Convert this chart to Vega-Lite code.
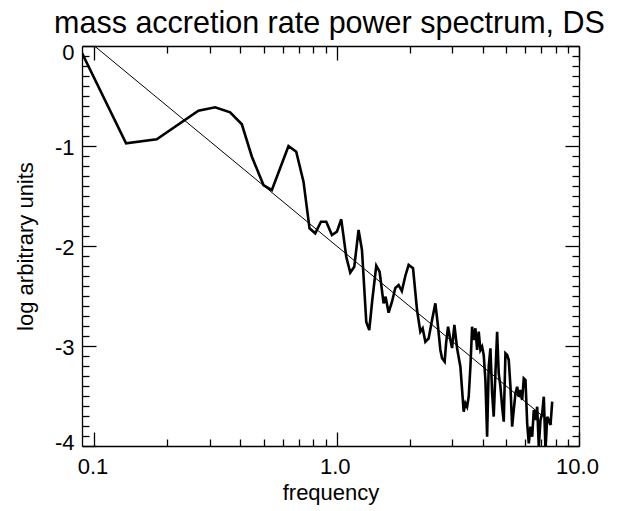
{
  "$schema": "https://vega.github.io/schema/vega-lite/v6.json",
  "width": 497,
  "height": 400,
  "autosize": {"type": "none"},
  "padding": {"left": 82, "top": 46, "right": 40, "bottom": 65},
  "background": "white",
  "config": {"view": {"stroke": null}, "font": "Liberation Sans"},
  "datasets": {
    "spectrum": [
      {"frequency": 0.0888, "logpower": -0.07},
      {"frequency": 0.135, "logpower": -0.973},
      {"frequency": 0.1807, "logpower": -0.933},
      {"frequency": 0.2685, "logpower": -0.647},
      {"frequency": 0.3148, "logpower": -0.613},
      {"frequency": 0.363, "logpower": -0.663},
      {"frequency": 0.4057, "logpower": -0.783},
      {"frequency": 0.4463, "logpower": -1.107},
      {"frequency": 0.4983, "logpower": -1.39},
      {"frequency": 0.5397, "logpower": -1.44},
      {"frequency": 0.6322, "logpower": -1.0},
      {"frequency": 0.6803, "logpower": -1.057},
      {"frequency": 0.7291, "logpower": -1.357},
      {"frequency": 0.772, "logpower": -1.823},
      {"frequency": 0.815, "logpower": -1.873},
      {"frequency": 0.8604, "logpower": -1.757},
      {"frequency": 0.9051, "logpower": -1.757},
      {"frequency": 0.9554, "logpower": -1.89},
      {"frequency": 1.0019, "logpower": -1.857},
      {"frequency": 1.0438, "logpower": -1.733},
      {"frequency": 1.0946, "logpower": -2.107},
      {"frequency": 1.137, "logpower": -2.267},
      {"frequency": 1.1812, "logpower": -2.207},
      {"frequency": 1.2304, "logpower": -1.84},
      {"frequency": 1.2709, "logpower": -2.04},
      {"frequency": 1.324, "logpower": -2.76},
      {"frequency": 1.3623, "logpower": -2.84},
      {"frequency": 1.4018, "logpower": -2.54},
      {"frequency": 1.4562, "logpower": -2.197},
      {"frequency": 1.5027, "logpower": -2.257},
      {"frequency": 1.5609, "logpower": -2.573},
      {"frequency": 1.5909, "logpower": -2.507},
      {"frequency": 1.637, "logpower": -2.667},
      {"frequency": 1.6909, "logpower": -2.557},
      {"frequency": 1.7449, "logpower": -2.42},
      {"frequency": 1.8005, "logpower": -2.39},
      {"frequency": 1.8562, "logpower": -2.45},
      {"frequency": 1.9191, "logpower": -2.3},
      {"frequency": 1.9803, "logpower": -2.19},
      {"frequency": 2.065, "logpower": -2.223},
      {"frequency": 2.1451, "logpower": -2.64},
      {"frequency": 2.2135, "logpower": -2.857},
      {"frequency": 2.2625, "logpower": -2.823},
      {"frequency": 2.3214, "logpower": -2.957},
      {"frequency": 2.3954, "logpower": -2.923},
      {"frequency": 2.4743, "logpower": -2.74},
      {"frequency": 2.5531, "logpower": -2.573},
      {"frequency": 2.6096, "logpower": -2.773},
      {"frequency": 2.6775, "logpower": -3.04},
      {"frequency": 2.7212, "logpower": -3.123},
      {"frequency": 2.7893, "logpower": -3.157},
      {"frequency": 2.8267, "logpower": -2.973},
      {"frequency": 2.881, "logpower": -2.807},
      {"frequency": 2.9448, "logpower": -2.94},
      {"frequency": 2.9928, "logpower": -3.02},
      {"frequency": 3.0591, "logpower": -2.79},
      {"frequency": 3.1386, "logpower": -3.023},
      {"frequency": 3.2387, "logpower": -3.207},
      {"frequency": 3.3421, "logpower": -3.657},
      {"frequency": 3.3966, "logpower": -3.573},
      {"frequency": 3.452, "logpower": -3.607},
      {"frequency": 3.505, "logpower": -3.507},
      {"frequency": 3.5622, "logpower": -3.207},
      {"frequency": 3.6203, "logpower": -2.807},
      {"frequency": 3.6759, "logpower": -2.94},
      {"frequency": 3.7359, "logpower": -2.823},
      {"frequency": 3.7969, "logpower": -3.04},
      {"frequency": 3.8551, "logpower": -2.857},
      {"frequency": 3.918, "logpower": -3.04},
      {"frequency": 3.9811, "logpower": -3.007},
      {"frequency": 4.0422, "logpower": -3.09},
      {"frequency": 4.1082, "logpower": -3.34},
      {"frequency": 4.1752, "logpower": -3.907},
      {"frequency": 4.2393, "logpower": -3.207},
      {"frequency": 4.3085, "logpower": -3.023},
      {"frequency": 4.3788, "logpower": -3.473},
      {"frequency": 4.446, "logpower": -3.707},
      {"frequency": 4.5186, "logpower": -3.273},
      {"frequency": 4.5923, "logpower": -2.857},
      {"frequency": 4.6629, "logpower": -3.273},
      {"frequency": 4.739, "logpower": -3.407},
      {"frequency": 4.8163, "logpower": -3.607},
      {"frequency": 4.8903, "logpower": -3.757},
      {"frequency": 4.9701, "logpower": -3.073},
      {"frequency": 5.0512, "logpower": -3.09},
      {"frequency": 5.1288, "logpower": -3.14},
      {"frequency": 5.2124, "logpower": -3.407},
      {"frequency": 5.2975, "logpower": -3.807},
      {"frequency": 5.3788, "logpower": -3.64},
      {"frequency": 5.4665, "logpower": -3.473},
      {"frequency": 5.5557, "logpower": -3.407},
      {"frequency": 5.641, "logpower": -3.507},
      {"frequency": 5.733, "logpower": -3.44},
      {"frequency": 5.8265, "logpower": -3.54},
      {"frequency": 5.916, "logpower": -3.323},
      {"frequency": 6.0125, "logpower": -3.34},
      {"frequency": 6.1106, "logpower": -3.773},
      {"frequency": 6.2043, "logpower": -3.973},
      {"frequency": 6.3055, "logpower": -3.807},
      {"frequency": 6.4083, "logpower": -3.907},
      {"frequency": 6.5068, "logpower": -3.64},
      {"frequency": 6.6129, "logpower": -3.74},
      {"frequency": 6.7208, "logpower": -3.607},
      {"frequency": 6.824, "logpower": -4.007},
      {"frequency": 6.9353, "logpower": -3.74},
      {"frequency": 7.0484, "logpower": -3.673},
      {"frequency": 7.1567, "logpower": -3.507},
      {"frequency": 7.2735, "logpower": -4.04},
      {"frequency": 7.3922, "logpower": -3.707},
      {"frequency": 7.5057, "logpower": -3.74},
      {"frequency": 7.6281, "logpower": -3.79},
      {"frequency": 7.7526, "logpower": -3.557}
    ],
    "powerlaw": [
      {"frequency": 0.1, "logpower": 0.0},
      {"frequency": 7.75, "logpower": -3.78}
    ]
  },
  "layer": [
    {
      "data": {"name": "spectrum"},
      "mark": {"type": "line", "color": "black", "strokeWidth": 2.6, "clip": true},
      "encoding": {
        "x": {
          "field": "frequency", "type": "quantitative",
          "scale": {"type": "log", "domain": [0.0888, 10], "nice": false},
          "axis": {
            "orient": "bottom",
            "values": [0.1, 0.2, 0.3, 0.4, 0.5, 0.6, 0.7, 0.8, 0.9, 1, 2, 3, 4, 5, 6, 7, 8, 9, 10],
            "tickSize": {"condition": {"test": "datum.value == 0.1 || datum.value == 1 || datum.value == 10", "value": -14}, "value": -7},
            "tickColor": "black", "tickWidth": 1.3,
            "domainColor": "black", "domainWidth": 1.3,
            "grid": false,
            "labelExpr": "datum.value == 0.1 ? '0.1' : datum.value == 1 ? '1.0' : datum.value == 10 ? '10.0' : ''",
            "labelFont": "Liberation Sans", "labelFontSize": 22, "labelColor": "black",
            "labelBaseline": "top", "labelPadding": 24, "labelOffset": -2,
            "labelOverlap": false, "labelFlush": false, "labelBound": false,
            "title": "frequency", "titleFont": "Liberation Sans", "titleFontSize": 22, "titleFontWeight": "normal", "titleColor": "black",
            "titleBaseline": "alphabetic", "titleY": 53
          }
        },
        "y": {
          "field": "logpower", "type": "quantitative",
          "scale": {"domain": [-4, 0], "nice": false, "zero": false},
          "axis": {
            "orient": "left",
            "values": [-4, -3.9, -3.8, -3.7, -3.6, -3.5, -3.4, -3.3, -3.2, -3.1, -3, -2.9, -2.8, -2.7, -2.6, -2.5, -2.4, -2.3, -2.2, -2.1, -2, -1.9, -1.8, -1.7, -1.6, -1.5, -1.4, -1.3, -1.2, -1.1, -1, -0.9, -0.8, -0.7, -0.6, -0.5, -0.4, -0.3, -0.2, -0.1, 0],
            "tickSize": {"condition": {"test": "abs(datum.value - round(datum.value)) < 0.001", "value": -14}, "value": -7},
            "tickColor": "black", "tickWidth": 1.3,
            "domainColor": "black", "domainWidth": 1.3,
            "grid": false,
            "labelExpr": "abs(datum.value - round(datum.value)) < 0.001 ? (round(datum.value) == 0 ? '0' : '-' + abs(round(datum.value))) : ''",
            "labelFont": "Liberation Sans", "labelFontSize": 22, "labelColor": "black",
            "labelAlign": "right", "labelBaseline": "middle", "labelPadding": 22,
            "labelOffset": {"condition": [{"test": "datum.value == 0", "value": 6}, {"test": "datum.value == -4", "value": -4}], "value": 1.5},
            "labelOverlap": false, "labelFlush": false, "labelBound": false,
            "title": "log arbitrary units", "titleFont": "Liberation Sans", "titleFontSize": 22, "titleFontWeight": "normal", "titleColor": "black",
            "titleAngle": 270, "titleBaseline": "middle", "titleX": -57, "titleY": 200
          }
        }
      }
    },
    {
      "data": {"name": "powerlaw"},
      "mark": {"type": "line", "color": "black", "strokeWidth": 1, "clip": true},
      "encoding": {
        "x": {
          "field": "frequency", "type": "quantitative",
          "scale": {"type": "log", "domain": [0.0888, 10], "nice": false},
          "axis": {
            "orient": "top",
            "values": [0.1, 0.2, 0.3, 0.4, 0.5, 0.6, 0.7, 0.8, 0.9, 1, 2, 3, 4, 5, 6, 7, 8, 9, 10],
            "tickSize": {"condition": {"test": "datum.value == 0.1 || datum.value == 1 || datum.value == 10", "value": -14}, "value": -7},
            "tickColor": "black", "tickWidth": 1.3,
            "domainColor": "black", "domainWidth": 1.3,
            "grid": false, "labels": false,
            "title": "mass accretion rate power spectrum, DS", "titleFont": "Liberation Sans", "titleFontSize": 30.5, "titleFontWeight": "normal", "titleColor": "black",
            "titleBaseline": "alphabetic", "titleAlign": "center", "titleX": 247, "titleY": -14
          }
        },
        "y": {
          "field": "logpower", "type": "quantitative",
          "scale": {"domain": [-4, 0], "nice": false, "zero": false},
          "axis": {
            "orient": "right",
            "values": [-4, -3.9, -3.8, -3.7, -3.6, -3.5, -3.4, -3.3, -3.2, -3.1, -3, -2.9, -2.8, -2.7, -2.6, -2.5, -2.4, -2.3, -2.2, -2.1, -2, -1.9, -1.8, -1.7, -1.6, -1.5, -1.4, -1.3, -1.2, -1.1, -1, -0.9, -0.8, -0.7, -0.6, -0.5, -0.4, -0.3, -0.2, -0.1, 0],
            "tickSize": {"condition": {"test": "abs(datum.value - round(datum.value)) < 0.001", "value": -14}, "value": -7},
            "tickColor": "black", "tickWidth": 1.3,
            "domainColor": "black", "domainWidth": 1.3,
            "grid": false, "labels": false, "title": null
          }
        }
      }
    }
  ],
  "resolve": {"axis": {"x": "independent", "y": "independent"}}
}
